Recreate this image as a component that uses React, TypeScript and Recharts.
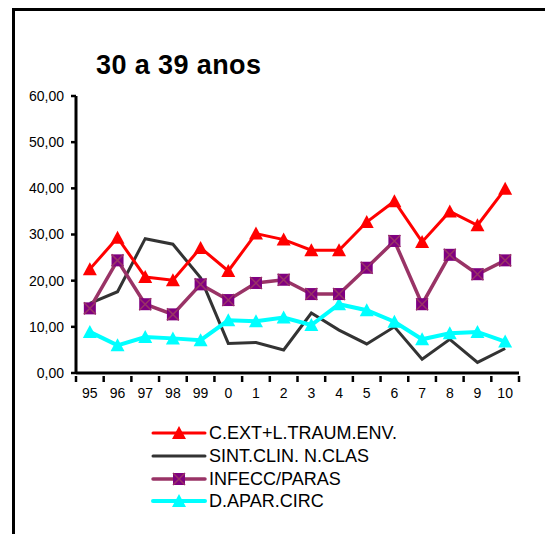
import React from 'react'
import { LineChart, Line, XAxis, YAxis } from 'recharts'

const anos = ['95', '96', '97', '98', '99', '0', '1', '2', '3', '4', '5', '6', '7', '8', '9', '10']
const cExt = [22.5, 29.3, 20.8, 20.1, 27.1, 22.1, 30.2, 28.9, 26.6, 26.6, 32.7, 37.2, 28.4, 35.0, 32.0, 39.9]
const sintClin = [15.1, 17.6, 29.1, 27.9, 20.6, 6.4, 6.6, 5.0, 13.0, 9.3, 6.3, 10.0, 3.0, 7.3, 2.3, 5.3]
const infecc = [14.0, 24.4, 14.9, 12.7, 19.2, 15.8, 19.5, 20.2, 17.1, 17.1, 22.8, 28.6, 14.9, 25.6, 21.4, 24.4]
const dAparCirc = [8.9, 6.0, 7.8, 7.5, 7.1, 11.4, 11.2, 12.0, 10.4, 14.9, 13.6, 11.1, 7.3, 8.6, 8.9, 6.8]
const yTicks = [0, 10, 20, 30, 40, 50, 60]
const seriesNames = ['C.EXT+L.TRAUM.ENV.', 'SINT.CLIN. N.CLAS', 'INFECC/PARAS', 'D.APAR.CIRC']

const data = anos.map((ano, i) => ({
  ano,
  cExt: cExt[i],
  sintClin: sintClin[i],
  infecc: infecc[i],
  dAparCirc: dAparCirc[i],
}))

const FONT = 'Arial, "Liberation Sans", sans-serif'
const PLOT_LEFT = 76
const PLOT_RIGHT = 519
const HALF_BAND = (PLOT_RIGHT - PLOT_LEFT) / anos.length / 2

function triangleDot(color: string) {
  return (props: any) => {
    const { cx, cy, index } = props
    if (cx == null || cy == null) return null
    return (
      <polygon
        key={`t-${color}-${index}`}
        points={`${cx},${cy - 7} ${cx - 7},${cy + 6} ${cx + 7},${cy + 6}`}
        fill={color}
      />
    )
  }
}

function SquareDot(props: any) {
  const { cx, cy, index } = props
  if (cx == null || cy == null) return null
  return (
    <g key={`s-${index}`}>
      <rect x={cx - 6} y={cy - 6} width={12} height={12} fill="#800080" />
      <path d={`M${cx - 6},${cy - 6}L${cx + 6},${cy + 6}M${cx + 6},${cy - 6}L${cx - 6},${cy + 6}`} stroke="#993366" strokeWidth={1.5} />
    </g>
  )
}

function XTick(props: any) {
  const { x, y, payload, index } = props
  return (
    <g>
      {index === 0 && <line x1={x - HALF_BAND} y1={y - 5} x2={x - HALF_BAND} y2={y + 1} stroke="#000" strokeWidth={2.5} />}
      <line x1={x + HALF_BAND} y1={y - 5} x2={x + HALF_BAND} y2={y + 1} stroke="#000" strokeWidth={2.5} />
      <text x={x} y={y + 17} textAnchor="middle" fontSize={14} fontFamily={FONT} fill="#000">
        {payload.value}
      </text>
    </g>
  )
}

function LegendRow({ y, color, width, marker, label }: { y: number; color: string; width: number; marker: string; label: string }) {
  return (
    <g>
      <line x1={153} y1={y} x2={205} y2={y} stroke={color} strokeWidth={width} strokeLinecap="round" />
      {marker === 'tri' && <polygon points={`179,${y - 7} 172,${y + 6} 186,${y + 6}`} fill={color} />}
      {marker === 'sq' && (
        <g>
          <rect x={173} y={y - 6} width={12} height={12} fill="#800080" />
          <path d={`M173,${y - 6}L185,${y + 6}M185,${y - 6}L173,${y + 6}`} stroke="#993366" strokeWidth={1.5} />
        </g>
      )}
      <text x={209} y={y} dominantBaseline="central" fontSize={18} fontFamily={FONT} fill="#000">
        {label}
      </text>
    </g>
  )
}

export default function App() {
  return (
    <div style={{ position: 'fixed', left: 0, top: 0, width: 545, height: 534, background: '#fff', overflow: 'hidden' }}>
      <div
        style={{
          position: 'absolute',
          left: 12,
          top: 8,
          width: 533,
          height: 526,
          borderTop: '3px solid #000',
          borderLeft: '3px solid #000',
          boxSizing: 'border-box',
        }}
      />
      <div
        style={{
          position: 'absolute',
          left: 96,
          top: 52,
          fontFamily: FONT,
          fontWeight: 'bold',
          fontSize: 27,
          letterSpacing: 0.4,
          lineHeight: '27px',
          color: '#000',
          whiteSpace: 'nowrap',
        }}
      >
        30 a 39 anos
      </div>
      <div style={{ position: 'absolute', left: 0, top: 0 }}>
        <LineChart width={545} height={534} data={data} margin={{ top: 96, right: 545 - PLOT_RIGHT, bottom: 131, left: PLOT_LEFT - 60 }}>
          <XAxis
            dataKey="ano"
            height={30}
            padding={{ left: HALF_BAND, right: HALF_BAND }}
            axisLine={{ stroke: '#000', strokeWidth: 3 }}
            tickLine={false}
            tick={<XTick />}
            interval={0}
          />
          <YAxis
            width={60}
            domain={[0, 60]}
            ticks={yTicks}
            tickFormatter={(v: number) => v.toFixed(2).replace('.', ',')}
            axisLine={{ stroke: '#000', strokeWidth: 3 }}
            tickLine={{ stroke: '#000', strokeWidth: 2.5 }}
            tickSize={5}
            tickMargin={7}
            tick={{ fill: '#000', fontSize: 14, fontFamily: FONT }}
            interval={0}
          />
          <Line dataKey="sintClin" stroke="#333333" strokeWidth={3} dot={false} isAnimationActive={false} />
          <Line dataKey="dAparCirc" stroke="#00FFFF" strokeWidth={4} dot={triangleDot('#00FFFF')} isAnimationActive={false} />
          <Line dataKey="infecc" stroke="#993366" strokeWidth={3.5} dot={<SquareDot />} isAnimationActive={false} />
          <Line dataKey="cExt" stroke="#FF0000" strokeWidth={3} dot={triangleDot('#FF0000')} isAnimationActive={false} />
        </LineChart>
      </div>
      <svg style={{ position: 'absolute', left: 0, top: 0 }} width={545} height={534} pointerEvents="none">
        <LegendRow y={433} color="#FF0000" width={3} marker="tri" label={seriesNames[0]} />
        <LegendRow y={456} color="#333333" width={3} marker="none" label={seriesNames[1]} />
        <LegendRow y={479} color="#993366" width={3.5} marker="sq" label={seriesNames[2]} />
        <LegendRow y={501} color="#00FFFF" width={4} marker="tri" label={seriesNames[3]} />
      </svg>
    </div>
  )
}
